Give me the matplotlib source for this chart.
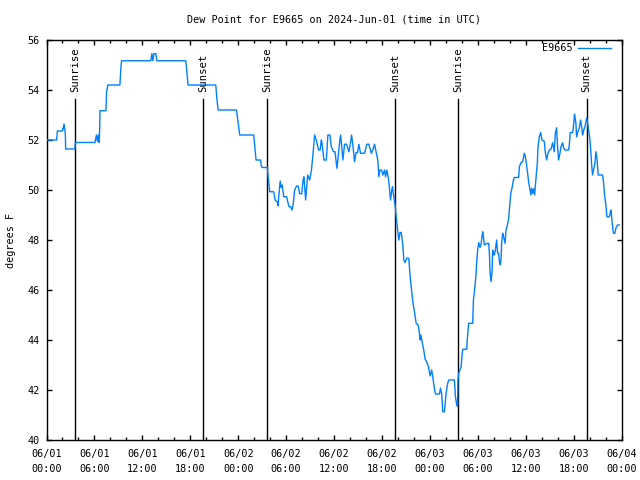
import matplotlib
matplotlib.use("Agg")
import matplotlib.pyplot as plt
import matplotlib.dates as mdates
import pandas as pd
import numpy as np

plt.rcParams['font.family'] = ['DejaVu Sans Mono']

title = "Dew Point for E9665 on 2024-Jun-01 (time in UTC)"
series_name = "E9665"
ylabel = "degrees F"
start = pd.Timestamp("2024-06-01 00:00")

# hours since 2024-06-01 00:00 UTC
hours = [
    0.0, 1.27, 1.37, 2.0, 2.06, 2.1, 2.19, 2.35, 2.4, 3.56, 3.6, 6.06, 6.25, 6.37, 6.5, 6.6, 6.66, 6.69,
    7.44, 7.52, 7.69, 9.19, 9.31, 9.4, 13.06, 13.19, 13.31, 13.44, 13.69, 13.81, 17.44, 17.6, 17.72,
    21.19, 21.31, 21.48, 23.78, 23.94, 24.19, 25.94, 26.12, 26.23, 26.81, 26.87, 26.97, 27.65, 27.75,
    27.94, 28.44, 28.62, 28.94, 28.98, 29.06, 29.25, 29.37, 29.5, 29.69, 30.06, 30.22, 30.37, 30.56,
    30.72, 30.87, 31.06, 31.31, 31.5, 31.69, 31.94, 32.1, 32.22, 32.44, 32.69, 32.94, 33.15, 33.35,
    33.56, 33.77, 34.06, 34.25, 34.4, 34.48, 34.73, 35.03, 35.22, 35.48, 35.65, 35.94, 36.12, 36.35,
    36.5, 36.69, 36.81, 36.94, 37.1, 37.31, 37.56, 37.85, 38.06, 38.19, 38.35, 38.56, 38.75, 38.94,
    39.1, 39.31, 39.81, 40.1, 40.35, 40.65, 40.85, 41.06, 41.27, 41.47, 41.6, 41.75, 41.94, 42.1,
    42.31, 42.44, 42.6, 42.72, 42.85, 43.06, 43.22, 43.31, 43.44, 43.65, 43.77, 43.94, 44.1, 44.25,
    44.4, 44.6, 44.73, 44.87, 45.1, 45.35, 45.52, 45.65, 45.85, 46.06, 46.27, 46.5, 46.6, 46.77,
    46.87, 47.0, 47.22, 47.4, 47.62, 47.81, 48.02, 48.22, 48.35, 48.52, 48.69, 49.19, 49.31, 49.47,
    49.6, 49.81, 50.02, 50.22, 50.35, 51.06, 51.19, 51.35, 51.45, 51.5, 51.6, 51.9, 52.02, 52.1,
    52.6, 52.66, 52.85, 53.35, 53.44, 53.65, 53.77, 53.85, 53.97, 54.1, 54.27, 54.4, 54.52, 54.6,
    54.69, 54.81, 55.02, 55.35, 55.44, 55.52, 55.65, 55.77, 55.85, 55.94, 56.06, 56.19, 56.35, 56.47,
    56.6, 56.69, 56.81, 56.9, 56.97, 57.1, 57.22, 57.4, 57.52, 57.65, 57.85, 58.02, 58.15, 58.27,
    58.44, 58.56, 59.1, 59.19, 59.4, 59.6, 59.81, 59.94, 60.1, 60.22, 60.35, 60.52, 60.65, 60.72,
    60.85, 60.97, 61.1, 61.27, 61.44, 61.52, 61.69, 61.85, 62.02, 62.31, 62.44, 62.6, 62.77, 62.94,
    63.15, 63.35, 63.56, 63.69, 63.85, 63.97, 64.1, 64.27, 64.4, 64.6, 64.72, 64.9, 65.35, 65.44,
    65.56, 65.85, 65.94, 66.1, 66.27, 66.35, 66.47, 66.69, 66.85, 67.02, 67.1, 67.22, 67.4, 67.52,
    67.6, 67.72, 67.85, 68.02, 68.15, 68.22, 68.35, 68.47, 68.65, 68.77, 68.9, 69.06, 69.6, 69.72,
    69.85, 70.02, 70.15, 70.44, 70.56, 70.65, 70.72, 70.85, 70.97, 71.15, 71.27, 71.47, 71.69,
]

dewpoint = [
    52.0, 52.0, 52.36, 52.36, 52.47, 52.45, 52.64, 52.3, 51.64, 51.64, 51.9, 51.9, 52.2, 51.95, 52.2, 51.9, 52.5, 53.17,
    53.17, 53.93, 54.2, 54.2, 54.9, 55.17, 55.17, 55.45, 55.17, 55.45, 55.45, 55.17, 55.17, 54.6, 54.2,
    54.2, 53.7, 53.2, 53.2, 52.8, 52.2, 52.2, 51.6, 51.2, 51.2, 51.0, 50.9, 50.9, 50.5,
    49.93, 49.93, 49.6, 49.5, 49.36, 49.7, 50.36, 50.1, 50.2, 49.73, 49.73, 49.5, 49.33, 49.33,
    49.2, 49.4, 50.0, 50.16, 50.16, 49.85, 49.85, 50.36, 50.53, 49.6, 50.6, 50.4, 50.76, 51.4,
    52.2, 52.0, 51.6, 51.6, 52.0, 51.9, 51.2, 51.2, 52.2, 52.2, 51.73, 51.53, 51.53, 50.87,
    51.3, 51.9, 52.2, 51.8, 51.2, 51.83, 51.83, 51.53, 51.9, 52.2, 51.8, 51.13, 51.5, 51.5,
    51.83, 51.47, 51.47, 51.83, 51.83, 51.47, 51.6, 51.83, 51.5, 51.2, 50.53, 50.8, 50.8, 50.6,
    50.8, 50.53, 50.8, 50.6, 50.33, 49.6, 50.0, 50.13, 49.8, 49.36, 48.93, 48.47, 48.0, 48.3,
    48.3, 47.8, 47.2, 47.1, 47.27, 47.27, 46.53, 46.13, 45.53, 45.13, 44.67, 44.6, 44.47, 44.0,
    44.2, 43.95, 43.6, 43.23, 43.1, 42.93, 42.56, 42.8, 42.53, 42.13, 41.84, 41.84, 42.07, 41.84,
    41.13, 41.13, 41.87, 42.27, 42.4, 42.4, 41.73, 41.4, 41.35, 42.4, 42.67, 42.93, 43.4, 43.63,
    43.63, 44.0, 44.67, 44.67, 45.6, 46.2, 46.67, 47.13, 47.6, 47.9, 47.7, 47.85, 48.13, 48.33,
    48.13, 47.8, 47.85, 47.87, 47.47, 46.73, 46.33, 46.73, 47.6, 47.47, 47.4, 47.6, 48.0, 47.47,
    47.47, 47.13, 47.0, 47.27, 47.87, 48.27, 48.13, 47.87, 48.4, 48.53, 48.87, 49.53, 49.93, 50.07,
    50.4, 50.5, 50.5, 50.93, 51.1, 51.13, 51.47, 51.33, 51.0, 50.67, 50.33, 50.0, 49.8, 50.07,
    49.87, 50.05, 49.8, 50.47, 51.07, 51.73, 52.13, 52.3, 52.0, 51.95, 51.5, 51.2, 51.47, 51.6,
    51.63, 51.89, 51.53, 52.27, 52.49, 51.73, 51.2, 51.47, 51.73, 51.89, 51.69, 51.6, 51.6, 51.8,
    52.3, 52.3, 52.47, 53.04, 52.67, 52.13, 52.3, 52.47, 52.8, 52.47, 52.2, 52.37, 52.53, 52.73,
    52.87, 52.73, 52.4, 52.04, 51.47, 51.07, 50.6, 50.8, 51.07, 51.53, 51.27, 50.6, 50.6, 50.33,
    49.8, 49.4, 48.93, 48.93, 49.07, 49.2, 49.0, 48.53, 48.27, 48.27, 48.47, 48.6, 48.6,
]

sun_hours = [3.57, 19.6, 27.57, 43.6, 51.55, 67.62]
sun_labels = ["Sunrise", "Sunset", "Sunrise", "Sunset", "Sunrise", "Sunset"]

times = [start + pd.Timedelta(hours=h) for h in hours]
sun_times = [start + pd.Timedelta(hours=h) for h in sun_hours]

fig = plt.figure(figsize=(6.4, 4.8), dpi=100)
ax = fig.add_axes([46.5 / 640, 40 / 480, 575.2 / 640, 400 / 480])

fs = 7.3
ax.plot(times, dewpoint, color="#0080ff", lw=1.0, label=series_name, zorder=3)

for t, lab in zip(sun_times, sun_labels):
    ax.axvline(t, ymin=0, ymax=0.853, color="black", lw=1.0, zorder=2)
    ax.text(t, 0.87, lab, transform=ax.get_xaxis_transform(), rotation=90,
            ha="center", va="bottom", fontsize=7.6)

ax.set_xlim(start, start + pd.Timedelta(hours=72))
ax.set_ylim(40, 56)
ax.set_yticks(np.arange(40, 57, 2))
ax.xaxis.set_major_locator(mdates.HourLocator(byhour=[0, 6, 12, 18]))
ax.xaxis.set_minor_locator(mdates.HourLocator(interval=2))
ax.xaxis.set_major_formatter(mdates.DateFormatter("%m/%d\n%H:%M"))

ax.tick_params(which="both", direction="in", top=True, right=True, labelsize=fs, width=1.0)
ax.tick_params(which="major", length=3.5, pad=5)
ax.tick_params(axis="x", which="major", pad=6.5)
ax.tick_params(which="minor", length=2.2)
for lbl in ax.get_xticklabels():
    lbl.set_linespacing(1.6)
for s in ax.spines.values():
    s.set_linewidth(1.0)

ax.set_title(title, fontsize=fs, pad=12.5)
ax.set_ylabel(ylabel, fontsize=fs, labelpad=8)

leg = ax.legend(loc="upper right", frameon=False, markerfirst=False, fontsize=fs,
                handlelength=3.2, borderaxespad=0.1, handletextpad=0.6,
                bbox_to_anchor=(0.99, 1.005))

fig.savefig("out.png", dpi=100)
